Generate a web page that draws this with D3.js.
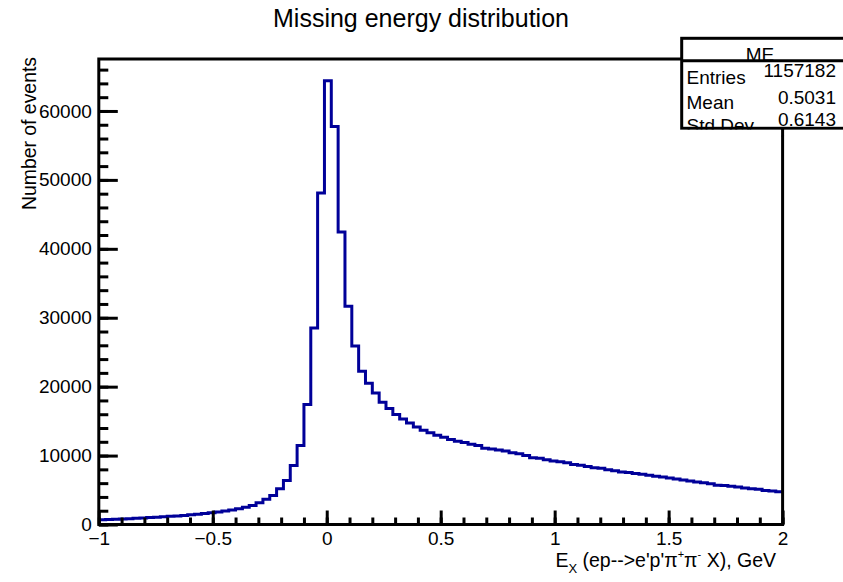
<!DOCTYPE html>
<html>
<head>
<meta charset="utf-8">
<script src="https://cdn.jsdelivr.net/npm/d3@7"></script>
<style>
  html, body { margin: 0; padding: 0; background: #fff; }
  svg { display: block; font-family: "Liberation Sans", Arial, Helvetica, sans-serif; }
</style>
</head>
<body>
<svg id="chart"></svg>
<script>
// Histogram "ME": 100 bins between -1 and 2 GeV, contents
const xRange = [-1, 2];
const counts = [
    680,   720,   760,   800,   850,   900,   950,  1000,  1060,  1120,
   1180,  1250,  1320,  1400,  1490,  1590,  1700,  1820,  1960,  2120,
   2300,  2520,  2760,  3150,  3650,  4200,  5200,  6400,  8550, 11450,
  17400, 28500, 48100, 64400, 57750, 42440, 31650, 25900, 22230, 20500,
  19090, 17740, 16820, 15950, 15320, 14740, 14160, 13680, 13300, 12950,
  12660, 12330, 12080, 11880, 11650, 11450, 11050, 10950, 10800, 10650,
  10400, 10250, 10000,  9700,  9600,  9400,  9200,  9100,  8950,  8700,
   8600,  8400,  8250,  8150,  7950,  7800,  7620,  7550,  7400,  7300,
   7150,  7000,  6900,  6750,  6600,  6450,  6300,  6150,  6050,  5900,
   5700,  5650,  5550,  5450,  5300,  5200,  5100,  4950,  4850,  4750
];
const yAxisMax   = 67540;
const xMajorTicks = [-1, -0.5, 0, 0.5, 1, 1.5, 2];
const yMajorTicks = [0, 10000, 20000, 30000, 40000, 50000, 60000];
const histName   = "ME";
const statNames  = ["Entries", "Mean", "Std Dev"];
const statValues = ["1157182", "0.5031", "0.6143"];

const width = 843, height = 582;
const frame = { left: 98.8, right: 782.6, top: 59, bottom: 524.5 };
const lineColor = "#000099";

const svg = d3.select("#chart")
  .attr("width", width)
  .attr("height", height);

const x = d3.scaleLinear().domain(xRange).range([frame.left, frame.right]);
const y = d3.scaleLinear().domain([0, yAxisMax]).range([frame.bottom, frame.top]);

// 1) histogram outline (step line over bin edges)
const nBins = counts.length,
      binW  = (xRange[1] - xRange[0]) / nBins;
const steps = counts.map((c, i) => [xRange[0] + i * binW, c]);
steps.push([xRange[1], counts[nBins - 1]]);

svg.append("path")
  .datum(steps)
  .attr("fill", "none")
  .attr("stroke", lineColor)
  .attr("stroke-width", 3)
  .attr("d", d3.line()
    .x(d => x(d[0]))
    .y(d => y(d[1]))
    .curve(d3.curveStepAfter));

// 2) axes, ROOT style: ticks pointing into the frame
const minus = s => s.replace("-", "\u2212");
const yMinor = d3.range(0, yAxisMax, 2000);
const xMinor = d3.range(0, 31).map(i => xRange[0] + i * 0.1);

function styleAxis(g) {
  g.select(".domain").remove();
  g.selectAll("line").attr("stroke", "#000").attr("stroke-width", 3);
  g.selectAll("text")
    .attr("fill", "#000")
    .attr("font-family", "'Liberation Sans', Arial, sans-serif")
    .attr("font-size", 19);
}

svg.append("g")
  .attr("transform", `translate(${frame.left},0)`)
  .call(d3.axisLeft(y).tickValues(yMinor).tickSize(-9.5).tickFormat(""))
  .call(styleAxis);
svg.append("g")
  .attr("transform", `translate(${frame.left},0)`)
  .call(d3.axisLeft(y).tickValues(yMajorTicks).tickSize(-19).tickPadding(7)
    .tickFormat(d3.format("d")))
  .call(styleAxis);

svg.append("g")
  .attr("transform", `translate(0,${frame.bottom})`)
  .call(d3.axisBottom(x).tickValues(xMinor).tickSize(-7).tickFormat(""))
  .call(styleAxis);
svg.append("g")
  .attr("transform", `translate(0,${frame.bottom})`)
  .call(d3.axisBottom(x).tickValues(xMajorTicks).tickSize(-14).tickPadding(7)
    .tickFormat(d => minus(String(d))))
  .call(styleAxis);

// frame
svg.append("rect")
  .attr("x", frame.left).attr("y", frame.top)
  .attr("width", frame.right - frame.left)
  .attr("height", frame.bottom - frame.top)
  .attr("fill", "none")
  .attr("stroke", "#000")
  .attr("stroke-width", 3);

// 3) titles
svg.append("text")
  .attr("x", 421).attr("y", 27)
  .attr("text-anchor", "middle")
  .attr("font-size", 25)
  .text("Missing energy distribution");

svg.append("text")
  .attr("transform", "translate(35.5,57) rotate(-90)")
  .attr("text-anchor", "end")
  .attr("font-size", 19.4)
  .text("Number of events");

const xt = svg.append("text")
  .attr("x", 776).attr("y", 566.5)
  .attr("text-anchor", "end")
  .attr("font-size", 19.5);
xt.append("tspan").text("E");
xt.append("tspan").attr("font-size", 13).attr("baseline-shift", "-6").text("X");
xt.append("tspan").text(" (ep-->e'p'\u03c0");
xt.append("tspan").attr("font-size", 11).attr("baseline-shift", "9").text("+");
xt.append("tspan").text("\u03c0");
xt.append("tspan").attr("font-size", 11).attr("baseline-shift", "9").text("-");
xt.append("tspan").text(" X), GeV");

// 4) stats box
const box = { left: 681.7, right: 850, top: 38.3, sep: 60.7, bottom: 128.3 };
const stats = svg.append("g");
stats.append("rect")
  .attr("x", box.left).attr("y", box.top)
  .attr("width", box.right - box.left)
  .attr("height", box.bottom - box.top)
  .attr("fill", "#fff");

stats.append("text")
  .attr("x", 760).attr("y", 60.5)
  .attr("text-anchor", "middle")
  .attr("font-size", 19)
  .text(histName);

const nameY  = [84, 109, 131.5],
      valueY = [77, 104, 126];
stats.selectAll("text.stat-name")
  .data(statNames)
  .join("text")
    .attr("class", "stat-name")
    .attr("x", 686.5)
    .attr("y", (d, i) => nameY[i])
    .attr("font-size", 19)
    .text(d => d);
stats.selectAll("text.stat-value")
  .data(statValues)
  .join("text")
    .attr("class", "stat-value")
    .attr("x", 836)
    .attr("y", (d, i) => valueY[i])
    .attr("text-anchor", "end")
    .attr("font-size", 19)
    .text(d => d);

// box border drawn last so it runs over the text like in ROOT
stats.append("rect")
  .attr("x", box.left).attr("y", box.top)
  .attr("width", box.right - box.left)
  .attr("height", box.bottom - box.top)
  .attr("fill", "none")
  .attr("stroke", "#000")
  .attr("stroke-width", 3);
stats.append("line")
  .attr("x1", box.left).attr("x2", box.right)
  .attr("y1", box.sep).attr("y2", box.sep)
  .attr("stroke", "#000")
  .attr("stroke-width", 3);
// white area below the box bottom line hides the cut text descent
stats.append("rect")
  .attr("x", box.left - 1.5).attr("y", box.bottom + 1.5)
  .attr("width", box.right - box.left + 3)
  .attr("height", 6)
  .attr("fill", "#fff");
svg.append("line")
  .attr("x1", frame.right).attr("x2", frame.right)
  .attr("y1", box.bottom).attr("y2", box.bottom + 8)
  .attr("stroke", "#000")
  .attr("stroke-width", 3);
</script>
</body>
</html>
